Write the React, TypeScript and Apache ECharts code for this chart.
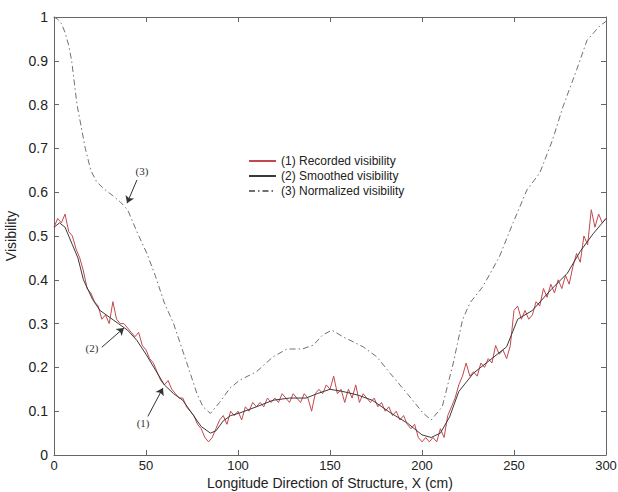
import React, { useEffect, useRef } from "react";
import * as echarts from "echarts";

const xTicks = [0, 50, 100, 150, 200, 250, 300];
const yTicks = [0, 0.1, 0.2, 0.3, 0.4, 0.5, 0.6, 0.7, 0.8, 0.9, 1];

const seriesNames = ["(1) Recorded visibility", "(2) Smoothed visibility", "(3) Normalized visibility"];

const recorded: [number, number][] = [
  [0, 0.52], [2, 0.54], [4, 0.53], [6, 0.55], [8, 0.51], [10, 0.5], [12, 0.47], [14, 0.45], [16, 0.42], [18, 0.38],
  [20, 0.37], [22, 0.35], [24, 0.34], [26, 0.31], [28, 0.32], [30, 0.3], [32, 0.35], [34, 0.31], [36, 0.3], [38, 0.3],
  [40, 0.29], [42, 0.28], [44, 0.27], [46, 0.28], [48, 0.25], [50, 0.24], [52, 0.22], [54, 0.21], [56, 0.19], [58, 0.17],
  [60, 0.16], [62, 0.17], [64, 0.15], [66, 0.14], [68, 0.13], [70, 0.13], [72, 0.11], [74, 0.1], [76, 0.09], [78, 0.07],
  [80, 0.06], [82, 0.04], [84, 0.03], [86, 0.04], [88, 0.06], [90, 0.08], [92, 0.09], [94, 0.07], [96, 0.1], [98, 0.09],
  [100, 0.1], [102, 0.08], [104, 0.11], [106, 0.1], [108, 0.12], [110, 0.11], [112, 0.12], [114, 0.11], [116, 0.13], [118, 0.12],
  [120, 0.13], [122, 0.12], [124, 0.14], [126, 0.13], [128, 0.12], [130, 0.14], [132, 0.13], [134, 0.12], [136, 0.14], [138, 0.13],
  [140, 0.1], [142, 0.14], [144, 0.15], [146, 0.14], [148, 0.16], [150, 0.15], [152, 0.18], [154, 0.14], [156, 0.15], [158, 0.12],
  [160, 0.15], [162, 0.13], [164, 0.16], [166, 0.12], [168, 0.14], [170, 0.13], [172, 0.12], [174, 0.13], [176, 0.11], [178, 0.12],
  [180, 0.1], [182, 0.11], [184, 0.09], [186, 0.1], [188, 0.08], [190, 0.09], [192, 0.07], [194, 0.06], [196, 0.07], [198, 0.04],
  [200, 0.03], [202, 0.04], [204, 0.03], [206, 0.04], [208, 0.03], [210, 0.06], [212, 0.04], [214, 0.09], [216, 0.11], [218, 0.13],
  [220, 0.16], [222, 0.18], [224, 0.21], [226, 0.18], [228, 0.19], [230, 0.18], [232, 0.21], [234, 0.2], [236, 0.22], [238, 0.21],
  [240, 0.25], [242, 0.23], [244, 0.24], [246, 0.22], [248, 0.25], [250, 0.33], [252, 0.34], [254, 0.31], [256, 0.33], [258, 0.31],
  [260, 0.32], [262, 0.35], [264, 0.34], [266, 0.38], [268, 0.36], [270, 0.39], [272, 0.37], [274, 0.4], [276, 0.38], [278, 0.41],
  [280, 0.39], [282, 0.43], [284, 0.46], [286, 0.44], [288, 0.5], [290, 0.48], [292, 0.56], [294, 0.52], [296, 0.55], [298, 0.53],
  [300, 0.54],
];

const smoothed: [number, number][] = [
  [0, 0.52], [3, 0.53], [6, 0.52], [10, 0.48], [13, 0.45], [16, 0.4], [21, 0.355], [25, 0.33], [30, 0.315], [35, 0.3],
  [40, 0.285], [45, 0.262], [50, 0.23], [55, 0.195], [60, 0.16], [65, 0.14], [70, 0.125], [75, 0.095], [80, 0.065], [85, 0.05],
  [88, 0.055], [92, 0.078], [96, 0.09], [101, 0.096], [110, 0.11], [119, 0.125], [128, 0.13], [137, 0.13], [143, 0.14], [150, 0.15],
  [157, 0.145], [165, 0.137], [173, 0.125], [183, 0.096], [192, 0.073], [200, 0.046], [205, 0.04], [210, 0.05], [215, 0.087], [220, 0.145],
  [228, 0.187], [237, 0.217], [246, 0.247], [252, 0.31], [260, 0.33], [270, 0.377], [279, 0.415], [286, 0.465], [293, 0.505], [300, 0.54],
];

const normalized: [number, number][] = [
  [0, 1.0], [2, 0.995], [4, 0.985], [6, 0.965], [8, 0.935], [9.6, 0.9], [12.5, 0.8], [17, 0.7], [20, 0.65], [23, 0.625],
  [27, 0.608], [32, 0.592], [36, 0.578], [40, 0.56], [45, 0.51], [50.5, 0.46], [55, 0.41], [60, 0.347], [65, 0.3], [68.5, 0.256],
  [73, 0.2], [77.7, 0.14], [81, 0.11], [85, 0.095], [90, 0.12], [95.7, 0.153], [101, 0.171], [110, 0.19], [119, 0.224], [126.6, 0.242],
  [135, 0.242], [141, 0.251], [146, 0.274], [151, 0.285], [157, 0.27], [168, 0.247], [175.5, 0.224], [182.6, 0.187], [192, 0.14], [200.5, 0.096],
  [205, 0.08], [211, 0.11], [217, 0.21], [222, 0.308], [226, 0.347], [233, 0.384], [242, 0.452], [249.5, 0.53], [257, 0.605], [264, 0.644],
  [271, 0.72], [276.6, 0.795], [284, 0.879], [289.7, 0.947], [296.7, 0.98], [300, 0.99],
];

// annotation labels: [label, textX, textY, arrowFromX, arrowFromY, arrowToX, arrowToY]
const annotations: [string, number, number, number, number, number, number][] = [
  ["(1)", 48.4, 0.073, 51, 0.088, 59.2, 0.153],
  ["(2)", 20.6, 0.244, 26, 0.246, 38, 0.29],
  ["(3)", 47.8, 0.648, 45.1, 0.628, 39.7, 0.575],
];

const FONT = "'Liberation Sans', Arial, sans-serif";

export default function App() {
  const ref = useRef<HTMLDivElement>(null);
  useEffect(() => {
    if (!ref.current) return;
    const chart = echarts.init(ref.current, undefined, { renderer: "svg" });
    const axisCommon = {
      min: 0,
      axisLine: { show: true, onZero: false, lineStyle: { color: "#666", width: 1 } },
      axisTick: { show: true, inside: true, length: 5, lineStyle: { color: "#666" } },
      splitLine: { show: false },
    };
    const option: any = {
      animation: false,
      backgroundColor: "#fff",
      grid: { left: 54, right: 12, top: 17, bottom: 37, containLabel: false, outerBoundsMode: "none" },
      legend: {
        data: seriesNames,
        orient: "vertical",
        left: 243,
        top: 150,
        itemWidth: 27,
        itemHeight: 8,
        itemGap: 3,
        itemStyle: { opacity: 0 },
        textStyle: { fontFamily: FONT, fontSize: 12, color: "#222" },
      },
      xAxis: [
        {
          ...axisCommon,
          type: "value",
          max: 300,
          interval: 50,
          position: "bottom",
          axisLabel: { fontFamily: FONT, fontSize: 13, color: "#222", margin: 4 },
          name: "Longitude Direction of Structure, X (cm)",
          nameLocation: "middle",
          nameGap: 21,
          nameMoveOverlap: false,
          nameTextStyle: { fontFamily: FONT, fontSize: 14, color: "#222" },
        },
        {
          ...axisCommon,
          type: "value",
          max: 300,
          interval: 50,
          position: "top",
          axisLabel: { show: false },
        },
      ],
      yAxis: [
        {
          ...axisCommon,
          type: "value",
          max: 1,
          interval: 0.1,
          position: "left",
          axisLabel: { fontFamily: FONT, fontSize: 14, color: "#222", margin: 6 },
          name: "Visibility",
          nameLocation: "middle",
          nameGap: 31,
          nameTextStyle: { fontFamily: FONT, fontSize: 14, color: "#222" },
        },
        {
          ...axisCommon,
          type: "value",
          max: 1,
          interval: 0.1,
          position: "right",
          axisLabel: { show: false },
        },
      ],
      series: [
        {
          name: seriesNames[0],
          type: "line",
          data: recorded,
          symbol: "none",
          lineStyle: { color: "#c4474d", width: 1 },
          itemStyle: { color: "#c4474d" },
        },
        {
          name: seriesNames[1],
          type: "line",
          data: smoothed,
          symbol: "none",
          lineStyle: { color: "#3a3a3a", width: 1 },
          itemStyle: { color: "#3a3a3a" },
          markLine: {
            silent: true,
            symbol: ["none", "arrow"],
            symbolSize: 7,
            lineStyle: { color: "#333", width: 1, type: "solid" },
            label: { show: false },
            data: annotations.map((a) => [
              { coord: [a[3], a[4]] },
              { coord: [a[5], a[6]] },
            ]),
          },
          markPoint: {
            silent: true,
            symbol: "rect",
            symbolSize: 1,
            itemStyle: { color: "transparent" },
            label: {
              show: true,
              position: "inside",
              fontFamily: "'Liberation Serif', 'DejaVu Serif', serif",
              fontSize: 11,
              color: "#333",
              formatter: (p: any) => p.name,
            },
            data: annotations.map((a) => ({ name: a[0], coord: [a[1], a[2]] })),
          },
        },
        {
          name: seriesNames[2],
          type: "line",
          data: normalized,
          symbol: "none",
          lineStyle: { color: "#707070", width: 1, type: [6, 3, 1.5, 3] },
          itemStyle: { color: "#707070" },
        },
      ],
    };
    chart.setOption(option);
    return () => chart.dispose();
  }, []);
  return (
    <div
      ref={ref}
      style={{ position: "absolute", left: 0, top: 0, width: 618, height: 492 }}
    />
  );
}
